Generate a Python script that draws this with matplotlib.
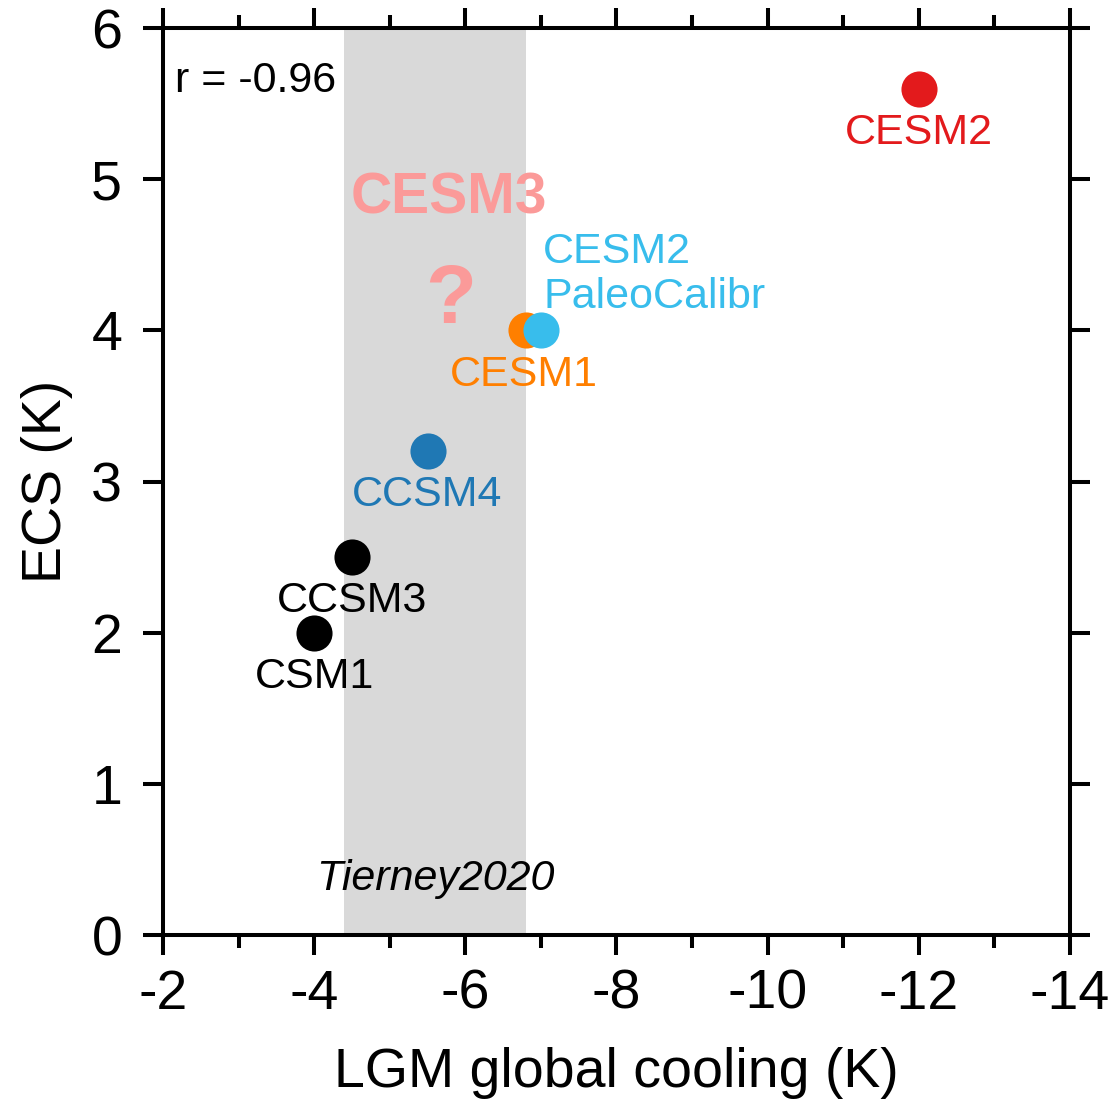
import numpy as np
import matplotlib
matplotlib.use("Agg")
import matplotlib.pyplot as plt
from matplotlib.ticker import MultipleLocator

plt.rcParams['font.family'] = ['Liberation Sans', 'DejaVu Sans']

# model data: LGM global cooling vs ECS
models = ['CSM1', 'CCSM3', 'CCSM4', 'CESM1', 'CESM2', 'CESM2\nPaleoCalibr']
lgm_cooling = [-4.0, -4.5, -5.5, -6.8, -12.0, -7.0]
ecs = [2.0, 2.5, 3.2, 4.0, 5.6, 4.0]
colors = ['black', 'black', '#1f78b4', '#ff7f00', '#e31a1c', '#38bdec']

# Tierney2020 range
tierney_range = (-4.4, -6.8)
r_value = -0.96

fig = plt.figure(figsize=(11.14, 11.0), dpi=100)
ax = fig.add_axes([0.1463, 0.15, 0.8142, 0.8245])

ax.axvspan(tierney_range[0], tierney_range[1], color='#d9d9d9', lw=0, zorder=0)
ax.text(np.mean(tierney_range), 0.3, 'Tierney2020', style='italic', fontsize=31,
        ha='center', va='baseline')

# plot CESM1 before the paleo-calibrated point so it sits underneath
order = [0, 1, 2, 3, 5, 4]
for i in order:
    ax.plot(lgm_cooling[i], ecs[i], 'o', ms=26, mew=0, color=colors[i], zorder=3,
            clip_on=False)

for i, name in enumerate(models):
    if '\n' in name:
        # va='baseline' on multi-line text aligns the last line
        ax.text(lgm_cooling[i] - 0.03, ecs[i] + 0.15, name, color=colors[i], fontsize=31,
                ha='left', va='baseline', linespacing=1.15)
    else:
        ax.text(lgm_cooling[i] + 0.03 * (i == 3), ecs[i] - 0.365, name, color=colors[i],
                fontsize=31, ha='center', va='baseline')

# CESM3 placeholder
ax.text(-5.78, 4.77, 'CESM3', color='#fb9a99', fontsize=41, fontweight='bold',
        ha='center', va='baseline')
ax.text(-5.8, 4.05, '?', color='#fb9a99', fontsize=60, fontweight='bold',
        ha='center', va='baseline')

ax.text(0.013, 0.929, f'r = {r_value:.2f}', transform=ax.transAxes, fontsize=31,
        ha='left', va='baseline')

ax.set_xlim(-2, -14)
ax.set_ylim(0, 6)
ax.xaxis.set_major_locator(MultipleLocator(2))
ax.xaxis.set_minor_locator(MultipleLocator(1))
ax.yaxis.set_major_locator(MultipleLocator(1))
ax.set_xticklabels([f'{v:g}' for v in ax.get_xticks()])
ax.set_xlim(-2, -14)

for s in ax.spines.values():
    s.set_linewidth(2.9)
ax.tick_params(which='both', direction='out', top=True, right=True, width=2.9,
               labelsize=40)
ax.tick_params(axis='x', pad=10)
ax.tick_params(axis='y', pad=15)
ax.tick_params(which='major', length=14.4)
ax.tick_params(which='minor', length=9.4)

ax.set_xlabel('LGM global cooling (K)', fontsize=40, labelpad=19)
ax.set_ylabel('ECS (K)', fontsize=40, labelpad=13)

fig.savefig('out.png', dpi=100)
